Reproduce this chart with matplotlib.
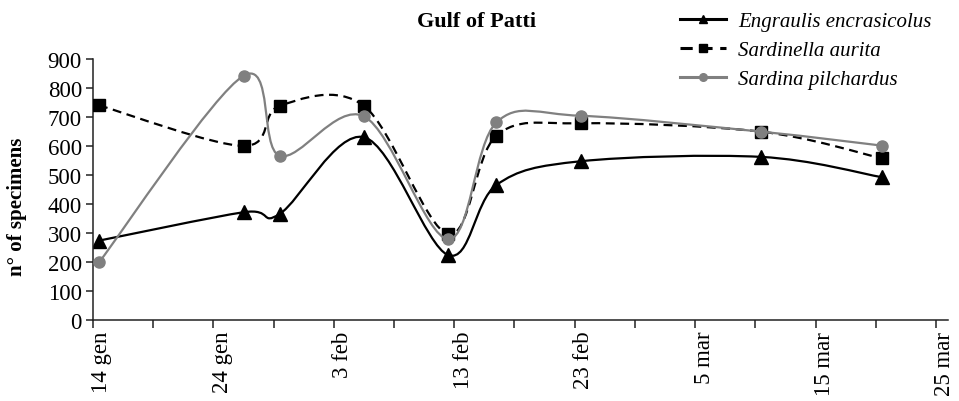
import numpy as np
import pandas as pd
import matplotlib
matplotlib.use('Agg')
import matplotlib.pyplot as plt
from matplotlib.path import Path
from matplotlib.patches import PathPatch
from matplotlib.lines import Line2D
import matplotlib.transforms as mtransforms

# sampling dates (non-leap year) and counts
sample_dates = ['2007-01-14', '2007-01-26', '2007-01-29', '2007-02-05', '2007-02-12',
                '2007-02-16', '2007-02-23', '2007-03-10', '2007-03-20']
engraulis = [273, 371, 365, 630, 223, 465, 547, 562, 492]
sardinella = [740, 600, 738, 738, 295, 635, 678, 649, 557]
sardina = [198, 842, 566, 702, 278, 681, 704, 649, 601]

tick_labels = ['14 gen', '24 gen', '3 feb', '13 feb', '23 feb', '5 mar', '15 mar', '25 mar']
start = pd.Timestamp('2007-01-14')


def smooth_path(x, y):
    # Excel-like smoothed line: cubic bezier, control points from neighbours / 6
    pts = np.column_stack([x, y]).astype(float)
    ext = np.vstack([pts[0], pts, pts[-1]])
    verts = [pts[0]]
    codes = [Path.MOVETO]
    for i in range(len(pts) - 1):
        p0, p1, p2, p3 = ext[i], ext[i + 1], ext[i + 2], ext[i + 3]
        c1 = p1 + (p2 - p0) / 6.0
        c2 = p2 - (p3 - p1) / 6.0
        verts += [c1, c2, p2]
        codes += [Path.CURVE4] * 3
    return Path(verts, codes)


# points sit in the middle of their day on the date axis
days = (pd.to_datetime(sample_dates) - start).days.values + 0.5

plt.rcParams['font.family'] = ['Liberation Serif', 'DejaVu Serif']

fig = plt.figure(figsize=(9.59, 4.02), dpi=100)
ax = fig.add_axes([93 / 959, 1 - 320.7 / 402, (948 - 93) / 959, (320.7 - 60) / 402])

series = [
    ('Engraulis encrasicolus', engraulis, 'black', '-', '^', 9.5),
    ('Sardinella aurita', sardinella, 'black', (0, (4, 2.5)), 's', 8),
    ('Sardina pilchardus', sardina, '#808080', '-', 'o', 8),
]

handles = []
for z, (name, vals, col, ls, mk, ms) in enumerate(series):
    patch = PathPatch(smooth_path(days, vals), fill=False, edgecolor=col,
                      linewidth=1.6, linestyle=ls, zorder=2 + z, capstyle='butt')
    ax.add_patch(patch)
    ax.plot(days, vals, linestyle='none', marker=mk, markersize=ms, color=col,
            markeredgecolor=col, zorder=2.5 + z)
    handles.append(Line2D([], [], color=col, linestyle=ls, linewidth=2.2,
                          marker=mk, markersize=5.5))

ax.set_xlim(0, 71)
ax.set_ylim(0, 900)
ax.set_yticks(range(0, 901, 100))
ax.set_xticks(range(0, 71, 10))
ax.set_xticks(range(5, 71, 10), minor=True)
ax.set_xticklabels(tick_labels, rotation=90, va='top', ha='center')

for s in ['top', 'right']:
    ax.spines[s].set_visible(False)
for s in ['left', 'bottom']:
    ax.spines[s].set_linewidth(1.1)
    ax.spines[s].set_color('#222222')

ax.tick_params(axis='y', direction='out', length=5, width=1.1, pad=3,
               labelsize=16.5, colors='#222222', labelcolor='black')
ax.tick_params(axis='x', which='both', direction='out', length=6, width=1.1,
               pad=2, labelsize=16.5, colors='#222222', labelcolor='black')

# nudge rotated date labels right a little, as in the original
offset = mtransforms.ScaledTranslation(9 / 100, 0, fig.dpi_scale_trans)
for lab in ax.get_xticklabels():
    lab.set_transform(lab.get_transform() + offset)

fig.text(477 / 959, 1 - 22 / 402, 'Gulf of Patti', ha='center', va='center',
         fontsize=16, fontweight='bold')
fig.text(17 / 959, 1 - 207 / 402, 'n° of specimens', rotation=90, ha='center',
         va='center', fontsize=15, fontweight='bold')

leg = fig.legend(handles, [s[0] for s in series], loc='upper right',
                 bbox_to_anchor=(940 / 959, 1 - 4 / 402), frameon=False,
                 prop={'style': 'italic', 'size': 15}, handlelength=2.2,
                 handletextpad=0.6, labelspacing=0.45, borderaxespad=0)

fig.savefig('out.png', dpi=100)
